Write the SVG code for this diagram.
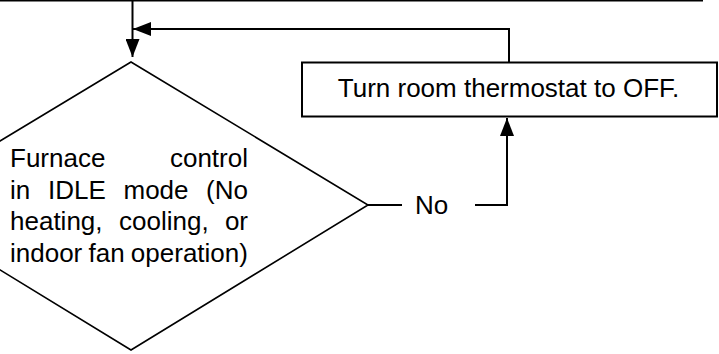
<svg xmlns="http://www.w3.org/2000/svg" width="719" height="354" viewBox="0 0 719 354">
<style>
  text { font-family: "Liberation Sans", Arial, sans-serif; font-size: 26px; fill: #000; }
  .ln { fill: none; stroke: #000; stroke-width: 2; }
  .shape { fill: #fff; stroke: #000; }
</style>
<defs>
  <marker id="arr" viewBox="0 0 18 14" refX="18" refY="7" markerWidth="18" markerHeight="14" markerUnits="userSpaceOnUse" orient="auto">
    <path d="M0,0 L18,7 L0,14 Z" fill="#000"/>
  </marker>
</defs>
<rect width="719" height="354" fill="#fff"/>
<g id="connectors">
  <line x1="0" y1="0.75" x2="703" y2="0.75" stroke="#000" stroke-width="1.5"/>
  <path class="ln" d="M132.5,0 L132.5,57" marker-end="url(#arr)"/>
  <path class="ln" d="M509,62 L509,29 L133,29" marker-end="url(#arr)"/>
  <path class="ln" d="M368,205 L402,205"/>
  <path class="ln" d="M475,205 L507,205 L507,118" marker-end="url(#arr)"/>
  <text x="431.5" y="214" text-anchor="middle">No</text>
</g>
<g id="decision">
  <polygon class="shape" stroke-width="1.6" points="131,62 368,205 131,350 -106,205"/>
  <text x="10" y="167">Furnace</text>
  <text x="248" y="167" text-anchor="end">control</text>
  <text x="10" y="198.5">in</text>
  <text x="48" y="198.5">IDLE</text>
  <text x="123.5" y="198.5">mode</text>
  <text x="248" y="198.5" text-anchor="end">(No</text>
  <text x="10" y="230">heating,</text>
  <text x="119" y="230">cooling,</text>
  <text x="248" y="230" text-anchor="end">or</text>
  <text x="10" y="261.7" word-spacing="-1">indoor fan operation)</text>
</g>
<g id="turn-off">
  <rect class="shape" stroke-width="2" x="302" y="62.5" width="415" height="54"/>
  <text x="508.5" y="97" text-anchor="middle">Turn room thermostat to OFF.</text>
</g>
</svg>
